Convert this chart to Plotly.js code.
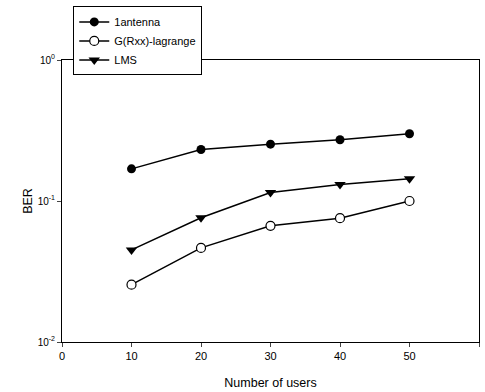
<!DOCTYPE html>
<html><head><meta charset="utf-8">
<script src="https://cdn.plot.ly/plotly-3.0.1.min.js"></script>
<style>html,body{margin:0;padding:0;background:#fff}#c{width:485px;height:392px}</style>
</head><body><div id="c"></div>
<script>
var users = [10, 20, 30, 40, 50];
var antenna1 = [0.169, 0.232, 0.253, 0.272, 0.300];
var lagrange = [0.0255, 0.0465, 0.0667, 0.0755, 0.100];
var lms = [0.045, 0.076, 0.115, 0.131, 0.144];
var yTickVals = [0.01, 0.1, 1];
var yTickText = ['10<sup>-2</sup>', '10<sup>-1</sup>', '10<sup>0</sup>'];
var xTickVals = [0, 10, 20, 30, 40, 50, 60];

var line = {color: '#000', width: 1.5};
var traces = [
  {x: users, y: antenna1, name: '1antenna', mode: 'lines+markers', line: line,
   marker: {symbol: 'circle', size: 9, color: '#000'}},
  {x: users, y: lagrange, name: 'G(Rxx)-lagrange', mode: 'lines+markers', line: line,
   marker: {symbol: 'circle', size: 9, color: '#fff', line: {color: '#000', width: 1.2}}},
  {x: users, y: lms, name: 'LMS', mode: 'lines+markers', line: line,
   marker: {symbol: 'triangle-down', size: 10, color: '#000'}}
];
var layout = {
  width: 485, height: 392,
  margin: {l: 62, r: 6, t: 58, b: 50},
  paper_bgcolor: '#fff', plot_bgcolor: '#fff',
  font: {family: 'Liberation Sans, Arial, sans-serif', color: '#000', size: 11},
  showlegend: true,
  legend: {x: 0.027, y: 1.19, xanchor: 'left', yanchor: 'top', bgcolor: '#fff',
    bordercolor: '#000', borderwidth: 1, font: {size: 11}, tracegroupgap: 0,
    itemwidth: 30},
  xaxis: {range: [0, 60], tickvals: xTickVals, ticks: 'outside', ticklen: 4,
    showline: true, linecolor: '#000', linewidth: 1, mirror: true, showgrid: false,
    zeroline: false, title: {text: 'Number of users', font: {size: 12.5}, standoff: 17},
    tickfont: {size: 11}},
  yaxis: {type: 'log', range: [-2, 0], tickvals: yTickVals, ticktext: yTickText,
    ticks: 'outside', ticklen: 4, showline: true, linecolor: '#000', linewidth: 1,
    mirror: true, showgrid: false, zeroline: false,
    title: {text: 'BER', font: {size: 12.5}, standoff: 2}, tickfont: {size: 10}}
};
Plotly.newPlot('c', traces, layout, {displayModeBar: false, staticPlot: true});
</script></body></html>
